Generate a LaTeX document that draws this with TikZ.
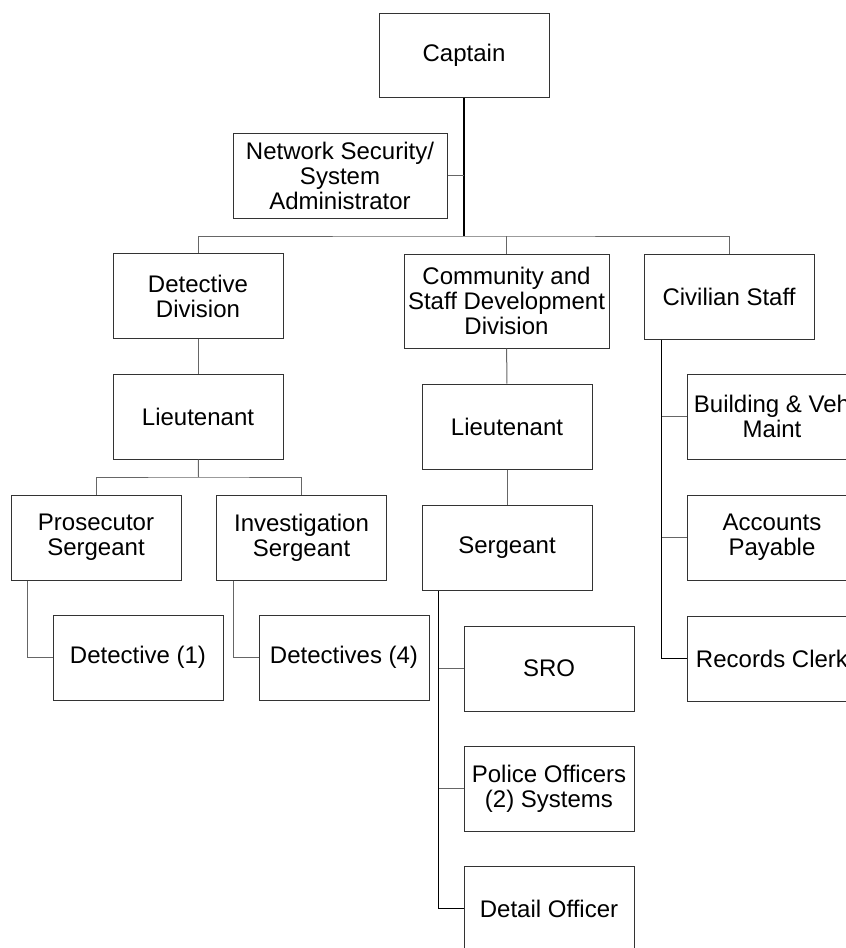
\documentclass[tikz,border=0pt]{standalone}
\usepackage{fontspec}
\setmainfont{Liberation Sans}
\usetikzlibrary{positioning}

\begin{document}
\begin{tikzpicture}[x=1pt, y=-1pt, node distance=121pt, on grid,
    box/.style={draw=black!80, line width=1pt, minimum width=170pt, minimum height=85pt,
        inner sep=2pt, align=center, font=\fontsize{24}{25}\selectfont},
    link/.style={draw=black!60, line width=1pt},
    trunk/.style={draw=black, line width=1.4pt}]
    \useasboundingbox (0,0) rectangle (846,948);

    \node[box, minimum height=84pt] (captain) at (464,55) {Captain};
    \node[box, minimum width=214pt] (netsec) at (340,175.5) {Network Security/\\System\\Administrator};
    \node[box] (detdiv) at (198,296) {Detective\\Division};
    \node[box, minimum width=205pt, minimum height=94pt] (commdiv) at (506.5,301) {Community and\\Staff Development\\Division};
    \node[box] (civil) at (729,296.5) {Civilian Staff};

    % detective division
    \node[box] (detlt) [below=120.5pt of detdiv] {Lieutenant};
    \node[box] (prosgt) at (96,537.5) {Prosecutor\\Sergeant};
    \node[box] (invsgt) [right=205.5pt of prosgt] {Investigation\\Sergeant};
    \node[box] (det1) at (138,657.5) {Detective (1)};
    \node[box] (det4) [right=206pt of det1] {Detectives (4)};

    % community and staff development
    \node[box] (comlt) at (507,426.5) {Lieutenant};
    \node[box] (comsgt) [below=of comlt] {Sergeant};
    \node[box] (sro) at (549,668.5) {SRO};
    \node[box] (police) [below=120pt of sro] {Police Officers\\(2) Systems};
    \node[box] (detail) [below=120pt of police] {Detail Officer};

    % civilian staff
    \node[box] (bldg) at (772,416.5) {Building \& Veh\\Maint};
    \node[box] (acct) [below=of bldg] {Accounts\\Payable};
    \node[box] (records) [below=of acct] {Records Clerk};

    \coordinate (bus) at (464,236);
    \coordinate (detbus) at (198.5,477);

    \path[trunk] (captain.south) -- (bus);
    \path[link] (netsec) -- (netsec -| captain);
    \path[link] (detdiv.north) |- (bus) -| (civil.north);
    \path[link] (commdiv.north) -- (commdiv.north |- bus);

    \path[link] (detdiv) -- (detlt);
    \path[link] (detlt) -- (detbus);
    \path[link] (prosgt.north) |- (detbus) -| (invsgt.north);
    \path[link] ([xshift=17pt]prosgt.south west) |- (det1.west);
    \path[link] ([xshift=17pt]invsgt.south west) |- (det4.west);

    \path[link] (commdiv) -- (comlt);
    \path[link] (comlt) -- (comsgt);
    \path[trunk] ([xshift=17pt]comsgt.south west) |- (detail.west);
    \foreach \n in {sro, police}
        \path[link] (\n.west) -- ++(-25,0);

    \path[trunk] ([xshift=18pt]civil.south west) |- (records.west);
    \foreach \n in {bldg, acct}
        \path[link] (\n.west) -- ++(-25,0);
\end{tikzpicture}
\end{document}
